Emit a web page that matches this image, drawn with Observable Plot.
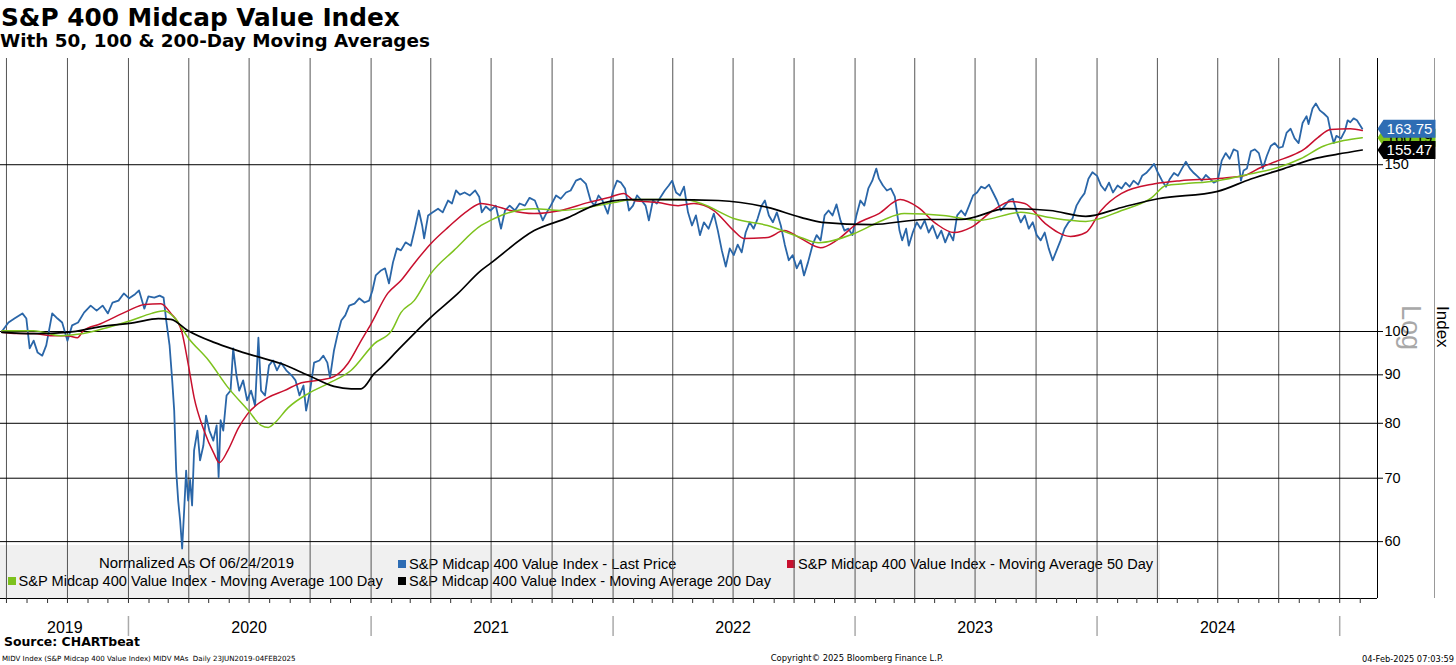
<!DOCTYPE html>
<html><head><meta charset="utf-8">
<script src="https://cdn.jsdelivr.net/npm/d3@7"></script>
<script src="https://cdn.jsdelivr.net/npm/@observablehq/plot@0.6"></script>
<style>
body{margin:0;background:#fff;}
#wrap{position:relative;width:1456px;height:665px;overflow:hidden;font-family:"Liberation Sans",Arial,sans-serif;color:#000;}
.t{position:absolute;white-space:nowrap;line-height:1;}
.bold{font-family:"DejaVu Sans",Verdana,sans-serif;font-weight:bold;}
.dv{font-family:"DejaVu Sans",Verdana,sans-serif;}
#legend{position:absolute;left:0;top:545px;width:1160px;height:53px;background:#f0f0f0;z-index:0;}
.sq{position:absolute;width:8px;height:8px;}
#chart{position:absolute;left:0;top:50px;z-index:1;}
#logtxt{position:absolute;writing-mode:vertical-rl;font-size:27px;line-height:27px;color:#a8a8a8;left:1397px;top:305px;font-family:"Liberation Sans",Arial,sans-serif;}
#idxtxt{position:absolute;writing-mode:vertical-rl;font-size:17px;line-height:17px;color:#000;left:1434px;top:306px;font-family:"Liberation Sans",Arial,sans-serif;}
#sep{position:absolute;left:1434px;top:58px;height:540px;border-left:1px solid #999;}
</style></head>
<body>
<div id="wrap">
  <div class="t bold" id="title">S&amp;P 400 Midcap Value Index</div>
  <div class="t bold" id="subtitle">With 50, 100 &amp; 200-Day Moving Averages</div>
  <div id="legend"></div>
  <div id="chart"></div>
  <div id="sep"></div>
  <div id="logtxt">Log</div>
  <div id="idxtxt">Index</div>
  <div class="t bold" id="source">Source: CHARTbeat</div>
  <div class="t dv" id="foot1">MIDV Index (S&amp;P Midcap 400 Value Index) MIDV MAs&nbsp; Daily 23JUN2019-04FEB2025</div>
  <div class="t dv" id="foot2">Copyright© 2025 Bloomberg Finance L.P.</div>
  <div class="t dv" id="foot3">04-Feb-2025 07:03:59</div>
</div>
<script>
// ---------- DATA ----------
const price = [
["2019-06-24",100.0],["2019-07-04",102.2],["2019-07-13",103.2],["2019-07-25",104.5],["2019-07-31",103.2],
["2019-08-05",96.0],["2019-08-11",97.8],["2019-08-17",95.0],["2019-08-24",94.3],["2019-08-30",96.7],
["2019-09-08",104.5],["2019-09-16",103.2],["2019-09-23",102.2],["2019-10-01",97.8],["2019-10-08",101.5],
["2019-10-17",102.2],["2019-10-26",104.7],["2019-11-05",106.5],["2019-11-14",105.2],["2019-11-23",106.5],
["2019-12-01",104.5],["2019-12-08",107.3],["2019-12-17",107.8],["2019-12-25",109.7],["2020-01-02",108.4],
["2020-01-11",109.5],["2020-01-17",110.5],["2020-01-25",105.7],["2020-01-31",108.9],["2020-02-09",108.6],
["2020-02-17",109.1],["2020-02-23",108.6],["2020-02-27",102.7],["2020-03-03",96.7],["2020-03-07",88.8],
["2020-03-10",82.5],["2020-03-13",71.3],["2020-03-16",66.3],["2020-03-19",63.1],["2020-03-22",59.0],
["2020-03-25",64.7],["2020-03-28",71.3],["2020-03-31",66.3],["2020-04-03",69.7],["2020-04-06",65.5],
["2020-04-09",74.9],["2020-04-14",78.6],["2020-04-18",73.1],["2020-04-23",75.8],["2020-04-27",81.5],
["2020-05-02",78.6],["2020-05-08",76.7],["2020-05-13",79.6],["2020-05-16",70.2],["2020-05-19",80.6],
["2020-05-23",78.6],["2020-05-28",85.6],["2020-06-03",86.6],["2020-06-07",96.0],["2020-06-12",89.8],
["2020-06-16",86.6],["2020-06-22",88.8],["2020-06-28",84.6],["2020-07-04",86.6],["2020-07-10",83.5],
["2020-07-15",98.5],["2020-07-19",86.6],["2020-07-25",85.6],["2020-07-31",92.1],["2020-08-06",93.2],
["2020-08-12",91.0],["2020-08-18",92.7],["2020-08-26",91.0],["2020-09-03",89.9],["2020-09-09",88.8],
["2020-09-15",85.6],["2020-09-21",87.7],["2020-09-25",82.5],["2020-10-01",86.6],["2020-10-07",92.7],
["2020-10-15",93.2],["2020-10-21",94.3],["2020-10-27",92.7],["2020-10-31",89.4],["2020-11-06",95.5],
["2020-11-11",99.0],["2020-11-17",102.7],["2020-11-23",104.0],["2020-11-29",106.5],["2020-12-07",107.0],
["2020-12-14",108.4],["2020-12-22",107.3],["2020-12-29",107.8],["2021-01-03",110.5],["2021-01-08",114.6],
["2021-01-16",116.0],["2021-01-22",116.6],["2021-01-28",112.4],["2021-02-03",118.3],["2021-02-09",122.4],
["2021-02-15",121.8],["2021-02-22",124.2],["2021-03-02",123.2],["2021-03-08",128.4],["2021-03-14",134.2],
["2021-03-19",129.4],["2021-03-22",125.4],["2021-03-28",132.6],["2021-04-04",133.6],["2021-04-12",134.8],
["2021-04-19",133.6],["2021-04-27",137.5],["2021-05-03",136.5],["2021-05-09",140.9],["2021-05-15",139.5],
["2021-05-22",140.2],["2021-05-30",139.2],["2021-06-07",140.9],["2021-06-13",138.8],["2021-06-17",133.6],
["2021-06-23",135.5],["2021-06-30",134.2],["2021-07-08",135.8],["2021-07-16",128.4],["2021-07-22",134.2],
["2021-07-29",135.8],["2021-08-06",134.2],["2021-08-13",136.5],["2021-08-21",135.8],["2021-08-28",138.4],
["2021-09-05",137.5],["2021-09-11",134.2],["2021-09-17",131.0],["2021-09-23",133.6],["2021-09-29",135.8],
["2021-10-07",139.2],["2021-10-14",138.1],["2021-10-22",140.2],["2021-10-29",140.9],["2021-11-06",144.3],
["2021-11-13",145.0],["2021-11-21",143.2],["2021-11-28",137.5],["2021-12-04",135.8],["2021-12-10",139.2],
["2021-12-16",137.5],["2021-12-24",133.2],["2022-01-01",140.9],["2022-01-07",144.3],["2022-01-13",143.6],
["2022-01-19",141.6],["2022-01-25",134.2],["2022-01-31",135.8],["2022-02-06",139.2],["2022-02-13",137.5],
["2022-02-19",135.8],["2022-02-24",131.0],["2022-03-02",137.5],["2022-03-08",136.5],["2022-03-14",138.8],
["2022-03-20",140.9],["2022-03-26",142.6],["2022-03-31",144.3],["2022-04-06",140.2],["2022-04-12",139.2],
["2022-04-18",142.2],["2022-04-24",133.6],["2022-04-30",129.4],["2022-05-06",132.6],["2022-05-12",126.4],
["2022-05-18",130.4],["2022-05-25",128.4],["2022-06-02",133.2],["2022-06-08",127.8],["2022-06-14",121.8],
["2022-06-20",117.1],["2022-06-26",122.4],["2022-07-02",120.4],["2022-07-08",123.5],["2022-07-14",121.2],
["2022-07-20",127.2],["2022-07-26",130.4],["2022-08-01",128.4],["2022-08-07",131.6],["2022-08-13",135.8],
["2022-08-18",137.5],["2022-08-24",132.6],["2022-08-30",130.4],["2022-09-05",133.6],["2022-09-11",129.4],
["2022-09-17",123.5],["2022-09-23",118.9],["2022-09-29",120.4],["2022-10-05",116.6],["2022-10-11",118.9],
["2022-10-16",114.6],["2022-10-22",118.3],["2022-10-29",123.5],["2022-11-04",126.4],["2022-11-10",124.8],
["2022-11-16",132.6],["2022-11-22",134.2],["2022-11-28",132.6],["2022-12-04",136.2],["2022-12-10",131.0],
["2022-12-16",127.8],["2022-12-22",128.4],["2022-12-28",126.4],["2023-01-03",132.6],["2023-01-09",137.5],
["2023-01-15",135.8],["2023-01-21",141.6],["2023-01-27",144.3],["2023-02-02",148.6],["2023-02-06",145.0],
["2023-02-12",142.6],["2023-02-18",140.9],["2023-02-24",141.6],["2023-03-02",138.8],["2023-03-09",127.8],
["2023-03-13",124.8],["2023-03-19",128.4],["2023-03-23",123.2],["2023-03-29",127.2],["2023-04-04",130.4],
["2023-04-10",128.4],["2023-04-16",131.0],["2023-04-22",127.2],["2023-04-28",129.4],["2023-05-05",125.4],
["2023-05-11",127.8],["2023-05-17",124.2],["2023-05-23",127.2],["2023-05-29",124.8],["2023-06-04",132.6],
["2023-06-10",134.2],["2023-06-16",132.6],["2023-06-22",135.8],["2023-06-28",139.2],["2023-07-04",140.2],
["2023-07-10",142.2],["2023-07-16",141.6],["2023-07-22",142.9],["2023-07-28",140.2],["2023-08-03",137.5],
["2023-08-09",134.2],["2023-08-15",135.8],["2023-08-21",137.5],["2023-08-27",138.1],["2023-09-02",133.6],
["2023-09-08",130.4],["2023-09-14",132.6],["2023-09-20",128.4],["2023-09-26",130.4],["2023-10-02",126.4],
["2023-10-08",124.8],["2023-10-14",127.2],["2023-10-20",122.4],["2023-10-26",118.9],["2023-11-01",121.8],
["2023-11-07",124.8],["2023-11-13",128.4],["2023-11-19",130.4],["2023-11-25",131.6],["2023-12-01",135.8],
["2023-12-07",138.1],["2023-12-13",139.9],["2023-12-19",145.0],["2023-12-25",147.3],["2024-01-01",146.0],
["2024-01-07",142.6],["2024-01-13",140.9],["2024-01-19",143.6],["2024-01-25",140.2],["2024-02-01",142.6],
["2024-02-07",141.6],["2024-02-13",143.6],["2024-02-19",142.2],["2024-02-25",144.3],["2024-03-03",142.9],
["2024-03-09",146.0],["2024-03-15",147.0],["2024-03-21",148.6],["2024-03-27",150.3],["2024-04-02",147.0],
["2024-04-08",144.3],["2024-04-14",142.2],["2024-04-20",145.0],["2024-04-26",147.0],["2024-05-02",146.0],
["2024-05-08",148.6],["2024-05-14",151.1],["2024-05-20",148.6],["2024-05-26",147.0],["2024-06-01",145.7],
["2024-06-07",144.3],["2024-06-13",146.3],["2024-06-19",145.0],["2024-06-25",143.6],["2024-07-01",144.3],
["2024-07-07",151.5],["2024-07-13",154.3],["2024-07-19",152.2],["2024-07-25",155.7],["2024-07-31",155.0],
["2024-08-05",144.3],["2024-08-09",147.9],["2024-08-14",148.6],["2024-08-20",155.0],["2024-08-26",155.7],
["2024-09-01",154.3],["2024-09-07",148.6],["2024-09-13",153.2],["2024-09-19",157.0],["2024-09-25",158.1],
["2024-10-01",156.3],["2024-10-07",156.7],["2024-10-13",162.2],["2024-10-19",163.7],["2024-10-25",159.9],
["2024-10-31",158.1],["2024-11-06",166.0],["2024-11-12",168.8],["2024-11-15",165.6],["2024-11-21",172.0],
["2024-11-26",174.1],["2024-12-02",171.2],["2024-12-08",169.9],["2024-12-14",168.3],["2024-12-18",163.0],
["2024-12-23",158.1],["2024-12-27",160.9],["2025-01-03",159.9],["2025-01-09",163.0],["2025-01-13",167.1],
["2025-01-17",166.3],["2025-01-22",167.9],["2025-01-27",167.1],["2025-02-04",163.75]
];
const ma50 = [
["2019-06-24",99.8],["2019-07-17",99.5],["2019-08-11",99.5],["2019-09-05",99.0],["2019-10-01",99.0],
["2019-10-16",98.5],["2019-10-25",100.2],["2019-11-20",101.9],["2020-01-01",105.2],["2020-01-25",106.8],
["2020-02-19",107.0],["2020-03-05",104.5],["2020-03-21",100.2],["2020-03-31",92.5],["2020-04-09",85.2],
["2020-04-24",78.6],["2020-05-09",74.3],["2020-05-17",72.7],["2020-05-30",74.9],["2020-06-15",79.1],
["2020-06-29",81.9],["2020-07-30",85.2],["2020-08-23",86.6],["2020-09-18",88.3],["2020-10-13",88.8],
["2020-11-06",89.6],["2020-11-27",92.5],["2020-12-17",97.8],["2021-01-01",101.9],["2021-01-26",109.7],
["2021-02-15",113.2],["2021-03-07",118.0],["2021-04-01",123.8],["2021-04-27",128.8],["2021-05-27",134.2],
["2021-06-16",136.5],["2021-07-05",135.8],["2021-07-30",134.2],["2021-09-04",133.2],["2021-10-14",134.2],
["2021-11-24",136.8],["2021-12-24",138.4],["2022-01-17",139.9],["2022-02-02",137.5],["2022-03-10",136.8],
["2022-04-09",135.8],["2022-05-03",136.5],["2022-06-02",134.2],["2022-07-02",127.8],["2022-07-17",125.4],
["2022-08-22",125.7],["2022-09-16",127.8],["2022-10-11",125.4],["2022-11-10",122.6],["2022-12-04",124.8],
["2023-01-04",130.0],["2023-02-06",133.2],["2023-03-10",137.8],["2023-04-06",135.2],["2023-05-03",130.0],
["2023-05-30",127.2],["2023-06-25",128.8],["2023-07-28",134.2],["2023-08-24",137.2],["2023-09-14",136.5],
["2023-10-15",130.0],["2023-11-22",126.0],["2023-12-15",127.2],["2024-01-07",134.2],["2024-02-07",139.9],
["2024-03-28",143.2],["2024-05-06",144.3],["2024-06-27",145.0],["2024-08-09",146.0],["2024-09-04",149.0],
["2024-09-30",151.5],["2024-10-19",153.2],["2024-11-08",155.7],["2024-11-29",160.2],["2024-12-18",163.4],
["2025-01-17",163.7],["2025-02-04",163.0]
];
const ma100 = [
["2019-06-24",100.2],["2019-08-11",100.2],["2019-09-21",99.0],["2019-10-25",99.5],["2019-12-01",101.0],
["2020-01-05",102.7],["2020-02-05",104.5],["2020-02-24",105.2],["2020-03-10",103.5],["2020-03-31",98.5],
["2020-05-01",93.2],["2020-05-30",87.3],["2020-06-30",82.5],["2020-07-19",79.6],["2020-07-30",79.2],
["2020-08-08",80.0],["2020-08-29",83.1],["2020-09-28",86.0],["2020-10-28",88.1],["2020-12-02",91.0],
["2021-01-06",97.1],["2021-02-01",100.2],["2021-02-15",104.7],["2021-03-07",107.8],["2021-04-01",115.1],
["2021-05-06",121.8],["2021-06-16",129.4],["2021-06-30",131.0],["2021-07-16",132.6],["2021-09-04",134.8],
["2021-10-14",134.2],["2021-11-24",135.2],["2022-01-02",136.8],["2022-02-02",137.8],["2022-04-18",137.8],
["2022-05-14",136.5],["2022-07-02",131.6],["2022-08-22",129.4],["2022-10-11",125.7],["2022-11-07",124.1],
["2022-12-31",126.9],["2023-02-11",131.0],["2023-03-16",133.2],["2023-05-14",132.6],["2023-07-07",131.0],
["2023-09-08",133.6],["2023-10-22",131.9],["2023-12-15",130.7],["2024-02-07",134.2],["2024-03-23",138.4],
["2024-04-14",142.6],["2024-05-11",143.2],["2024-07-01",144.3],["2024-08-20",146.7],["2024-09-30",149.0],
["2024-11-03",152.2],["2024-12-08",157.0],["2025-01-07",159.1],["2025-02-04",160.19]
];
const ma200 = [
["2019-06-24",99.8],["2019-08-11",99.5],["2019-10-01",99.8],["2019-11-20",101.2],["2020-01-10",102.2],
["2020-02-15",103.2],["2020-03-05",103.0],["2020-03-31",100.2],["2020-05-09",97.4],["2020-06-09",95.7],
["2020-07-08",94.3],["2020-08-18",92.5],["2020-09-28",89.9],["2020-11-06",87.5],["2020-12-02",87.0],
["2020-12-17",87.0],["2021-01-06",90.3],["2021-01-16",91.6],["2021-02-10",95.5],["2021-04-01",103.5],
["2021-05-12",109.7],["2021-06-16",116.0],["2021-06-30",118.0],["2021-09-04",127.8],["2021-10-25",131.9],
["2021-12-03",135.8],["2022-01-24",137.8],["2022-03-25",137.8],["2022-06-09",137.5],["2022-08-22",135.2],
["2022-10-11",132.0],["2022-11-12",130.4],["2023-01-26",129.7],["2023-04-16",131.3],["2023-06-10",131.3],
["2023-08-18",134.8],["2023-10-22",134.2],["2023-12-15",132.3],["2024-02-07",135.2],["2024-04-02",138.1],
["2024-07-01",140.6],["2024-08-20",144.9],["2024-10-09",148.6],["2024-11-29",152.5],["2024-12-29",153.9],
["2025-02-04",155.47]
];
const lastValues = [
  {label: "160.19", value: 160.19, fill: "#7dc21d", textFill: "#000"},
  {label: "155.47", value: 155.47, fill: "#000000", textFill: "#fff"},
  {label: "163.75", value: 163.75, fill: "#2e6db4", textFill: "#fff"}
];
const yTicks = [60, 70, 80, 90, 100, 150];
const yearStarts = ["2020-01-01","2021-01-01","2022-01-01","2023-01-01","2024-01-01","2025-01-01"];
const yearLabels = [
  {date: "2019-09-27", label: "2019"}, {date: "2020-07-01", label: "2020"},
  {date: "2021-07-01", label: "2021"}, {date: "2022-07-01", label: "2022"},
  {date: "2023-07-01", label: "2023"}, {date: "2024-07-01", label: "2024"}
];
const legendItems = [
  {text: "Normalized As Of 06/24/2019", color: null, left: 99, baseline: 569, width: 195},
  {text: "S&P Midcap 400 Value Index - Last Price", color: "#2e6db4", left: 409, baseline: 569, width: 267.5},
  {text: "S&P Midcap 400 Value Index - Moving Average 50 Day", color: "#c8102e", left: 798, baseline: 569, width: 355},
  {text: "S&P Midcap 400 Value Index - Moving Average 100 Day", color: "#7dc21d", left: 18.5, baseline: 586, width: 364.5},
  {text: "S&P Midcap 400 Value Index - Moving Average 200 Day", color: "#000000", left: 409, baseline: 586, width: 362}
];
const xDomain = [new Date("2019-06-22"), new Date("2025-02-27")];
const yDomain = [52.25, 194.2];

const BLUE = "#2a66a8", RED = "#c8102e", GREEN = "#7dc21d", BLACK = "#000";
const rows = arr => arr.map(([d, v]) => ({date: new Date(d), value: v}));
const monthTicks = d3.utcMonth.range(new Date("2019-07-01"), new Date("2025-02-02"));
const quarterTicks = d3.utcMonth.every(3).range(new Date("2019-07-01"), new Date("2025-01-02"));

const tagShape = {draw(ctx) {
  ctx.moveTo(0, 0); ctx.lineTo(6, -9); ctx.lineTo(58, -9); ctx.lineTo(58, 9); ctx.lineTo(6, 9); ctx.closePath();
}};
const tagMarks = lastValues.flatMap(t => [
  Plot.dot([t], {x: () => xDomain[1], y: d => d.value, symbol: tagShape, fill: t.fill, stroke: "none"}),
  Plot.text([t], {x: () => xDomain[1], y: d => d.value, text: d => d.label, dx: 32, dy: 0.5, fill: t.textFill, fontSize: 15, textAnchor: "middle"})
]);

const chart = Plot.plot({
  width: 1456, height: 600,
  marginTop: 8, marginBottom: 52, marginLeft: 0, marginRight: 79,
  style: {background: "transparent", fontFamily: '"Liberation Sans", Arial, sans-serif', fontSize: "14.5px", color: "#000", overflow: "visible"},
  x: {type: "utc", domain: xDomain},
  y: {type: "log", domain: yDomain},
  marks: [
    Plot.ruleX(quarterTicks, {stroke: "#555", strokeWidth: 1}),
    Plot.ruleY(yTicks, {stroke: "#000", strokeWidth: 1}),
    Plot.ruleY([yDomain[0]], {stroke: "#000"}),
    Plot.ruleX([xDomain[1]], {stroke: "#000"}),
    Plot.axisX({ticks: monthTicks, tickSize: 5, tickFormat: () => "", label: null, stroke: "#333"}),
    Plot.ruleX(yearStarts.map(d => new Date(d)), {insetTop: 520, dy: 38, stroke: "#aaa", strokeWidth: 1.5}),
    Plot.text(yearLabels, {x: d => new Date(d.date), text: "label", frameAnchor: "bottom", dy: 34, fontSize: 16}),
    Plot.axisY({ticks: yTicks, anchor: "right", tickSize: 5, tickPadding: 2, tickFormat: d => String(d), label: null, fontSize: 14.5}),
    Plot.line(rows(price), {x: "date", y: "value", stroke: BLUE, strokeWidth: 1.8}),
    Plot.line(rows(ma50), {x: "date", y: "value", stroke: RED, strokeWidth: 1.5, curve: "monotone-x"}),
    Plot.line(rows(ma100), {x: "date", y: "value", stroke: GREEN, strokeWidth: 1.5, curve: "monotone-x"}),
    Plot.line(rows(ma200), {x: "date", y: "value", stroke: BLACK, strokeWidth: 1.7, curve: "monotone-x"}),
    ...tagMarks
  ]
});
document.getElementById("chart").appendChild(chart);

// ---------- text layout ----------
function place(el, o) {
  let size = o.size;
  el.style.fontSize = size + "px";
  if (o.width) {
    const w = el.getBoundingClientRect().width;
    size = size * o.width / w;
    el.style.fontSize = size + "px";
  }
  el.style.top = (o.baseline - 0.846 * size) + "px";
  const w2 = el.getBoundingClientRect().width;
  if (o.left != null) el.style.left = o.left + "px";
  else if (o.center != null) el.style.left = (o.center - w2 / 2) + "px";
  else el.style.left = (o.right - w2) + "px";
}
const wrap = document.getElementById("wrap");
legendItems.forEach(it => {
  const el = document.createElement("div");
  el.className = "t";
  el.style.zIndex = 0;
  el.textContent = it.text;
  wrap.insertBefore(el, document.getElementById("chart"));
  place(el, {left: it.left, baseline: it.baseline, width: it.width, size: 14.6});
  if (it.color) {
    const sq = document.createElement("div");
    sq.className = "sq";
    sq.style.background = it.color;
    sq.style.left = (it.left - 11) + "px";
    sq.style.top = (it.baseline - 9) + "px";
    wrap.insertBefore(sq, document.getElementById("chart"));
  }
});
place(document.getElementById("title"), {left: 1, baseline: 27, width: 399, size: 24});
place(document.getElementById("subtitle"), {left: 0, baseline: 48, width: 430, size: 18});
place(document.getElementById("source"), {left: 4, baseline: 647, width: 136, size: 12});
place(document.getElementById("foot1"), {left: 2, baseline: 661, width: 294, size: 7});
place(document.getElementById("foot2"), {center: 857, baseline: 661, width: 173, size: 7});
place(document.getElementById("foot3"), {right: 1454, baseline: 662, width: 92, size: 7});
</script>
</body></html>
